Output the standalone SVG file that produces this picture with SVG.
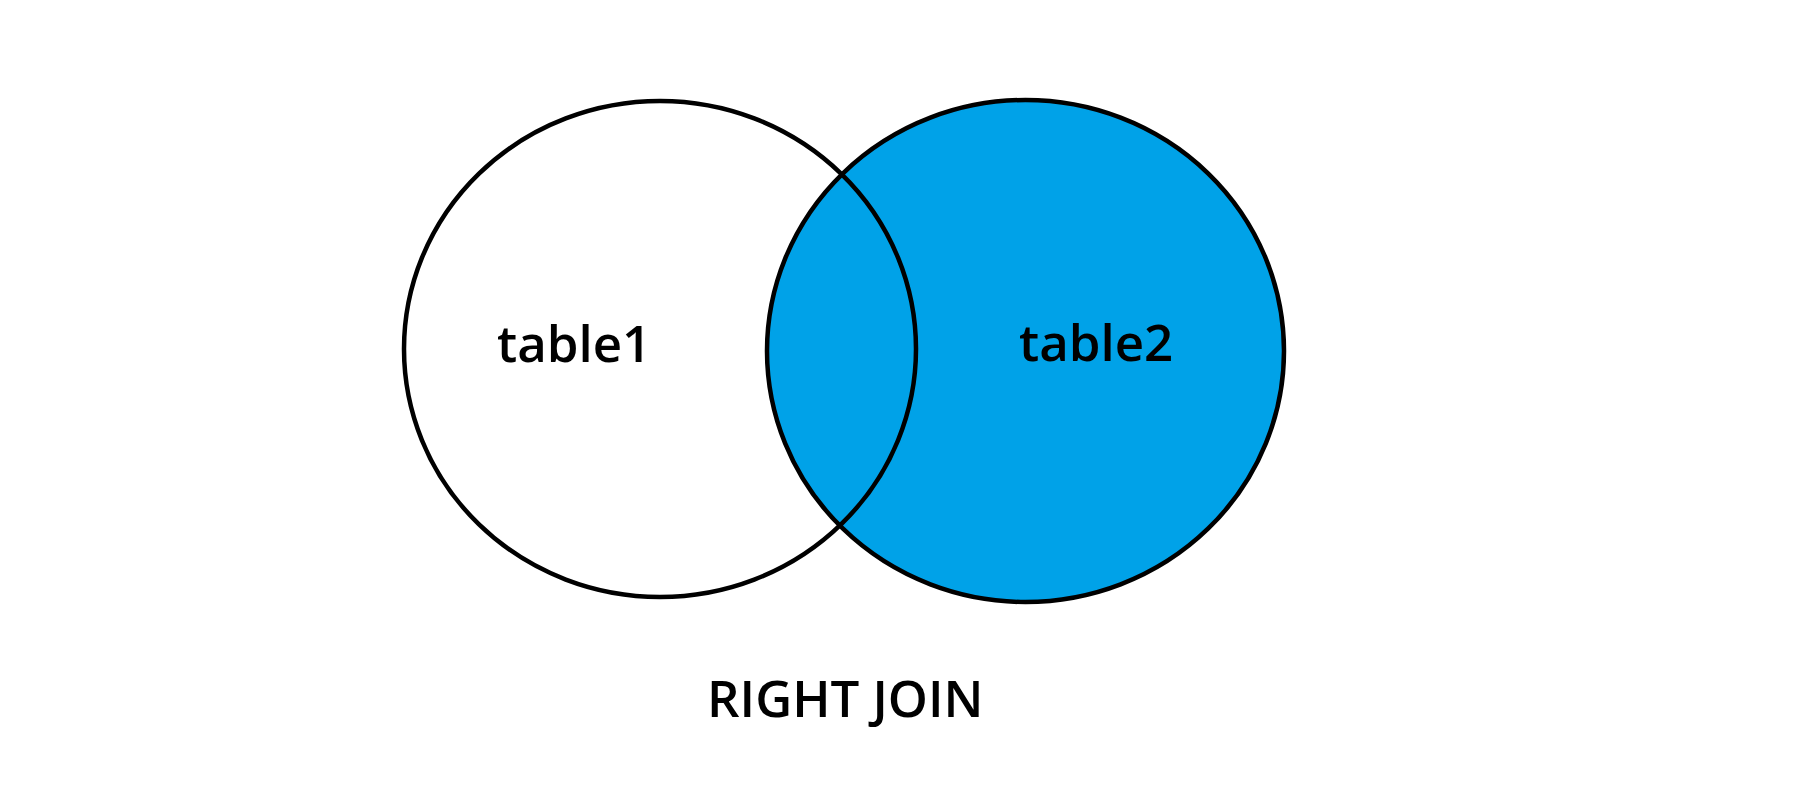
<svg xmlns="http://www.w3.org/2000/svg" width="1802" height="800" viewBox="0 0 1802 800">
<style>
.ring{stroke:#000;stroke-width:4.5}
.lbl{font-family:"Open Sans","Noto Sans",sans-serif;font-size:51px;font-weight:600;fill:#000}
</style>
<rect width="1802" height="800" fill="#fff"/>
<g id="table2">
<ellipse class="ring" cx="1025.5" cy="351" rx="258.5" ry="251" fill="#00a2e8"/>
<text class="lbl" x="1019" y="361">table2</text>
</g>
<g id="table1">
<ellipse class="ring" cx="660" cy="349" rx="256" ry="248" fill="none"/>
<text class="lbl" x="497" y="362">table1</text>
</g>
<g id="connectors"></g>
<g id="caption">
<text class="lbl" x="707" y="717">RIGHT JOIN</text>
</g>
</svg>
